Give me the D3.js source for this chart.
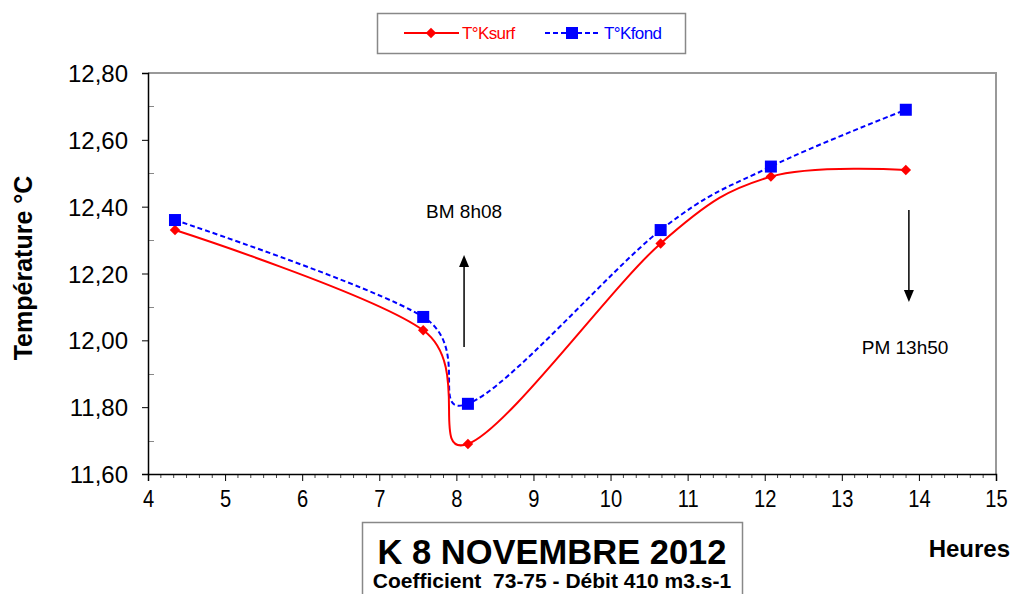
<!DOCTYPE html>
<meta charset="utf-8">
<style>
body { margin: 0; background: #fff; }
svg { font-family: "Liberation Sans", Arial, sans-serif; }
.axis path, .axis line { stroke: #000; }
.axis text { fill: #000; }
</style>
<svg width="1015" height="594"></svg>
<script src="https://cdn.jsdelivr.net/npm/d3@7"></script>
<script>
// heures de mesure et températures
var hours = [4.35, 7.57, 8.15, 10.65, 12.08, 13.83];
var tSurf = [12.33, 12.03, 11.69, 12.29, 12.49, 12.51];
var tFond = [12.36, 12.07, 11.81, 12.33, 12.52, 12.69];
var xTicks = [4, 5, 6, 7, 8, 9, 10, 11, 12, 13, 14, 15];
var yTicks = [11.6, 11.8, 12.0, 12.2, 12.4, 12.6, 12.8];

// marées (BM / PM)
var tideLabels = ["BM 8h08", "PM 13h50"];
var tideX = [8.1, 13.87];
var labelX = [8.1, 13.82];
var arrowFrom = [11.98, 12.39];
var arrowTo = [12.255, 12.115];
var labelY = [12.366, 11.959];

var svg = d3.select("svg"),
    margin = {top: 73, right: 19, bottom: 120, left: 148},
    width = +svg.attr("width") - margin.left - margin.right,
    height = +svg.attr("height") - margin.top - margin.bottom,
    g = svg.append("g").attr("transform", "translate(" + margin.left + "," + margin.top + ")");

var x = d3.scaleLinear().domain([4, 15]).range([0, width]);
var y = d3.scaleLinear().domain([11.6, 12.8]).range([height, 0]);

var fr = d3.formatLocale({decimal: ",", thousands: " ", grouping: [3], currency: ["", "€"]});

// cadre gris haut / droite
g.append("path")
    .attr("d", "M0,0H" + width + "V" + height)
    .attr("fill", "none")
    .attr("stroke", "#999")
    .attr("stroke-width", 2);

// graduations secondaires
g.append("g").selectAll("line")
    .data(d3.range(0, 12).map(function(i) { return 11.7 + i * 0.1; }).filter(function(v, i) { return i % 2 == 0; }))
  .enter().append("line")
    .attr("x1", 0).attr("x2", 6)
    .attr("y1", function(d) { return Math.round(y(d)) + 0.5; })
    .attr("y2", function(d) { return Math.round(y(d)) + 0.5; })
    .attr("stroke", "#888");

g.append("g").selectAll("line")
    .data(d3.range(0, 67).map(function(i) { return 4 + i / 6; }).filter(function(v, i) { return i % 6 != 0; }))
  .enter().append("line")
    .attr("x1", function(d) { return x(d); }).attr("x2", function(d) { return x(d); })
    .attr("y1", height).attr("y2", height + 4)
    .attr("stroke", "#444");

var yAxis = g.append("g")
    .attr("class", "axis")
    .call(d3.axisLeft(y).tickValues(yTicks).tickSize(6).tickPadding(14).tickFormat(fr.format(".2f")));
yAxis.select(".domain").attr("stroke-width", 1.5);
yAxis.selectAll(".tick line").attr("stroke", "#666");
yAxis.selectAll("text").attr("font-size", 24).attr("dy", "0.36em");

var xAxis = g.append("g")
    .attr("class", "axis")
    .attr("transform", "translate(0," + height + ")")
    .call(d3.axisBottom(x).tickValues(xTicks).tickSize(7).tickPadding(9).tickFormat(d3.format("d")));
xAxis.select(".domain").attr("stroke-width", 1.5);
xAxis.selectAll("text").attr("font-size", 24).attr("transform", "scale(0.84,1)");

// courbes lissées
var line = d3.line()
    .x(function(d) { return x(d[0]); })
    .y(function(d) { return y(d[1]); })
    .curve(d3.curveCardinal.tension(0));

var surf = hours.map(function(h, i) { return [h, tSurf[i]]; });
var fond = hours.map(function(h, i) { return [h, tFond[i]]; });

g.append("path")
    .datum(fond)
    .attr("fill", "none")
    .attr("stroke", "#0000ff")
    .attr("stroke-width", 2)
    .attr("stroke-dasharray", "5,3")
    .attr("d", line);

g.append("path")
    .datum(surf)
    .attr("fill", "none")
    .attr("stroke", "#ff0000")
    .attr("stroke-width", 2)
    .attr("d", line);

var diamond = d3.symbol().type(d3.symbolDiamond2).size(70);

g.selectAll(".pt-surf")
    .data(surf)
  .enter().append("path")
    .attr("class", "pt-surf")
    .attr("transform", function(d) { return "translate(" + x(d[0]) + "," + y(d[1]) + ")"; })
    .attr("d", diamond)
    .attr("fill", "#ff0000");

g.selectAll(".pt-fond")
    .data(fond)
  .enter().append("rect")
    .attr("class", "pt-fond")
    .attr("x", function(d) { return x(d[0]) - 6; })
    .attr("y", function(d) { return y(d[1]) - 6; })
    .attr("width", 12).attr("height", 12)
    .attr("fill", "#0000ff");

// flèches de marée
tideLabels.forEach(function(lbl, i) {
  var up = arrowTo[i] > arrowFrom[i];
  var base = y(arrowTo[i]) + (up ? 12 : -12);
  g.append("line")
      .attr("x1", x(tideX[i])).attr("x2", x(tideX[i]))
      .attr("y1", y(arrowFrom[i]))
      .attr("y2", base)
      .attr("stroke", "#000")
      .attr("stroke-width", 1.5);
  g.append("path")
      .attr("d", "M" + (x(tideX[i]) - 5) + "," + base +
                 "L" + x(tideX[i]) + "," + y(arrowTo[i]) +
                 "L" + (x(tideX[i]) + 5) + "," + base + "Z")
      .attr("fill", "#000");
  g.append("text")
      .attr("x", x(labelX[i]))
      .attr("y", y(labelY[i]))
      .attr("text-anchor", "middle")
      .attr("font-size", 19)
      .text(lbl);
});

// titre d'axe Y
svg.append("text")
    .attr("transform", "translate(32,268) rotate(-90)")
    .attr("text-anchor", "middle")
    .attr("font-size", 25)
    .attr("font-weight", "bold")
    .text("Température °C");

svg.append("text")
    .attr("x", 1010).attr("y", 557)
    .attr("text-anchor", "end")
    .attr("font-size", 24)
    .attr("font-weight", "bold")
    .text("Heures");

// légende
var legend = svg.append("g");
legend.append("rect")
    .attr("x", 377.5).attr("y", 13.5).attr("width", 308).attr("height", 40)
    .attr("fill", "#fff").attr("stroke", "#888").attr("stroke-width", 1.5);

legend.append("line").attr("x1", 404).attr("x2", 459).attr("y1", 33).attr("y2", 33)
    .attr("stroke", "#ff0000").attr("stroke-width", 2);
legend.append("path").attr("transform", "translate(431,33)").attr("d", diamond).attr("fill", "#ff0000");
legend.append("text").attr("x", 462).attr("y", 39).attr("font-size", 17)
    .attr("letter-spacing", -0.6).attr("fill", "#ff0000").text("T°Ksurf");

legend.append("line").attr("x1", 545).attr("x2", 600).attr("y1", 33).attr("y2", 33)
    .attr("stroke", "#0000ff").attr("stroke-width", 2).attr("stroke-dasharray", "5,3");
legend.append("rect").attr("x", 566).attr("y", 27).attr("width", 12).attr("height", 12).attr("fill", "#0000ff");
legend.append("text").attr("x", 604).attr("y", 39).attr("font-size", 17)
    .attr("letter-spacing", -0.6).attr("fill", "#0000ff").text("T°Kfond");

// cartouche titre
var title = svg.append("g");
title.append("rect")
    .attr("x", 362.5).attr("y", 522.5).attr("width", 380).attr("height", 80)
    .attr("fill", "#fff").attr("stroke", "#888").attr("stroke-width", 1.5);
title.append("text")
    .attr("x", 552).attr("y", 564)
    .attr("text-anchor", "middle")
    .attr("font-size", 34.5).attr("font-weight", "bold")
    .text("K 8 NOVEMBRE 2012");
title.append("text")
    .attr("x", 552).attr("y", 588)
    .attr("text-anchor", "middle")
    .attr("font-size", 21).attr("font-weight", "bold")
    .style("white-space", "pre")
    .text("Coefficient  73-75 - Débit 410 m3.s-1");
</script>
